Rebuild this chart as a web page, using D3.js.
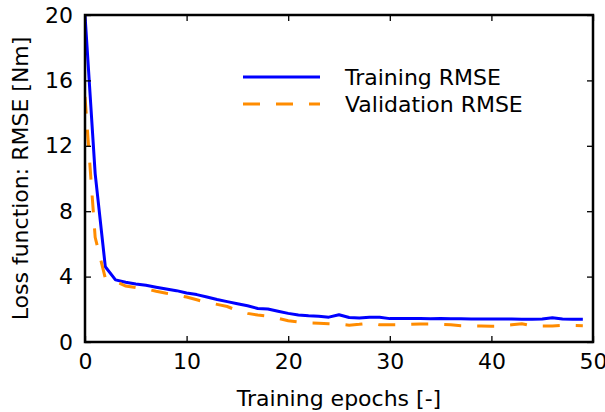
<!DOCTYPE html>
<html><head><meta charset="utf-8">
<script src="https://cdn.jsdelivr.net/npm/d3@7"></script>
<style>html,body{margin:0;padding:0;background:#fff;}svg{display:block;font-family:"DejaVu Sans",sans-serif;}</style>
</head><body>
<svg id="chart" width="605" height="412"></svg>
<script>
const epochs = d3.range(0, 50);
const trainingRMSE = [20, 10.3, 4.6, 3.8, 3.65, 3.55, 3.47, 3.35, 3.24, 3.14, 3.0, 2.9, 2.75, 2.6, 2.47, 2.34, 2.22, 2.05, 2.02, 1.88, 1.75, 1.65, 1.6, 1.57, 1.52, 1.67, 1.5, 1.47, 1.52, 1.52, 1.43, 1.44, 1.44, 1.43, 1.42, 1.44, 1.42, 1.42, 1.41, 1.41, 1.41, 1.41, 1.41, 1.39, 1.39, 1.41, 1.48, 1.4, 1.39, 1.39];
const validationRMSE = [15.0, 6.4, 3.9, 3.72, 3.42, 3.33, 3.25, 3.1, 2.98, 2.88, 2.75, 2.58, 2.42, 2.3, 2.17, 1.92, 1.75, 1.65, 1.58, 1.45, 1.3, 1.22, 1.17, 1.15, 1.12, 1.1, 1.03, 1.08, 1.15, 1.05, 1.05, 1.05, 1.08, 1.1, 1.1, 1.08, 1.05, 1.0, 0.98, 0.98, 0.97, 0.97, 1.05, 1.12, 0.98, 0.98, 0.98, 1.02, 1.02, 1.0];
const xTicks = [0, 10, 20, 30, 40, 50];
const yTicks = [0, 4, 8, 12, 16, 20];
const seriesNames = ["Training RMSE", "Validation RMSE"];
const xLabel = "Training epochs [-]";
const yLabel = "Loss function: RMSE [Nm]";

const svg = d3.select("#chart");
const L = 85, R = 593, T = 15, B = 342;
const x = d3.scaleLinear().domain([0, 50]).range([L, R]);
const y = d3.scaleLinear().domain([0, 20]).range([B, T]);

svg.append("defs").append("clipPath").attr("id", "clip")
  .append("rect").attr("x", L).attr("y", T).attr("width", R - L).attr("height", B - T);

const line = d3.line().x((d, i) => x(epochs[i])).y(d => y(d));
const plot = svg.append("g").attr("clip-path", "url(#clip)");
plot.append("path").datum(trainingRMSE).attr("d", line)
  .attr("fill", "none").attr("stroke", "#0000ff").attr("stroke-width", 3).attr("stroke-linejoin", "round");
plot.append("path").datum(validationRMSE).attr("d", line)
  .attr("fill", "none").attr("stroke", "#ff8c00").attr("stroke-width", 3).attr("stroke-dasharray", "17,16");

const fs = 22;
const ax = svg.append("g").attr("transform", `translate(0,${B})`)
  .call(d3.axisBottom(x).tickValues(xTicks).tickSize(-6).tickPadding(11).tickFormat(d3.format("d")));
const axTop = svg.append("g").attr("transform", `translate(0,${T})`)
  .call(d3.axisTop(x).tickValues(xTicks).tickSize(-6).tickFormat(""));
const ay = svg.append("g").attr("transform", `translate(${L},0)`)
  .call(d3.axisLeft(y).tickValues(yTicks).tickSize(-6).tickPadding(12).tickFormat(d3.format("d")));
const ayR = svg.append("g").attr("transform", `translate(${R},0)`)
  .call(d3.axisRight(y).tickValues(yTicks).tickSize(-6).tickFormat(""));
[ax, axTop, ay, ayR].forEach(g => {
  g.select(".domain").remove();
  g.selectAll(".tick line").attr("stroke", "#000").attr("stroke-width", 1.3);
  g.selectAll("text").attr("font-size", fs).attr("fill", "#000").attr("font-family", "DejaVu Sans");
});
svg.append("rect").attr("x", L).attr("y", T).attr("width", R - L).attr("height", B - T)
  .attr("fill", "none").attr("stroke", "#000").attr("stroke-width", 2.5);

svg.append("text").attr("x", (L + R) / 2).attr("y", 406).attr("text-anchor", "middle")
  .attr("font-size", fs).attr("fill", "#000").text(xLabel);
svg.append("text").attr("transform", `translate(28,${(T + B) / 2}) rotate(-90)`).attr("text-anchor", "middle")
  .attr("font-size", fs).attr("fill", "#000").text(yLabel);

const legend = svg.append("g");
const styles = [{c: "#0000ff", dash: null}, {c: "#ff8c00", dash: "17,16"}];
seriesNames.forEach((name, i) => {
  const ly = 77 + i * 27;
  legend.append("line").attr("x1", 243).attr("x2", 320).attr("y1", ly).attr("y2", ly)
    .attr("stroke", styles[i].c).attr("stroke-width", 3).attr("stroke-dasharray", styles[i].dash);
  legend.append("text").attr("x", 345).attr("y", ly + 8).attr("font-size", fs).attr("fill", "#000").text(name);
});
</script>
</body></html>
